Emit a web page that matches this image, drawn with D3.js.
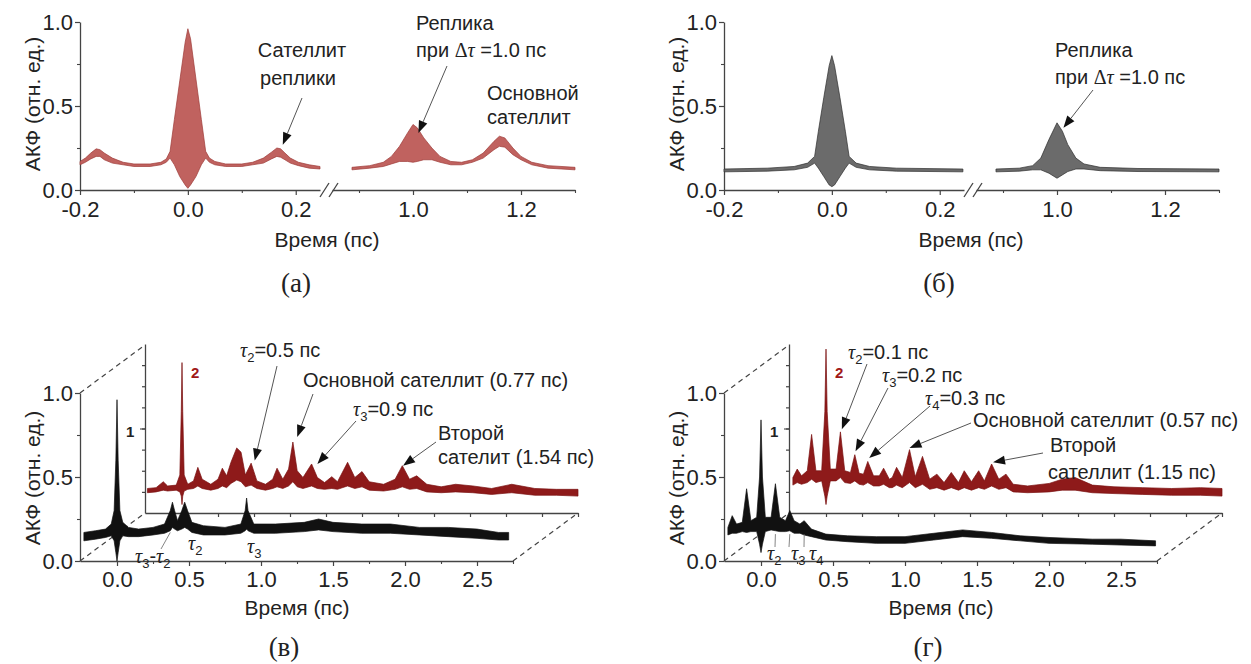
<!DOCTYPE html>
<html>
<head>
<meta charset="utf-8">
<script src="https://cdn.jsdelivr.net/npm/d3@7"></script>
<style>
  body { margin: 0; background: #fff; }
  svg text { font-family: "Liberation Sans", Arial, sans-serif; fill: #222; }
</style>
</head>
<body>
<script>
// ---- data: each point is [time (ps), upper envelope, lower envelope] ----
const aLeft = [[-0.2,0.17,0.15],[-0.19,0.19,0.165],[-0.18,0.22,0.185],[-0.17,0.245,0.2],[-0.163,0.24,0.2],[-0.155,0.22,0.18],[-0.14,0.19,0.16],[-0.12,0.165,0.15],[-0.1,0.155,0.14],[-0.07,0.155,0.14],[-0.05,0.165,0.15],[-0.04,0.185,0.165],[-0.033,0.23,0.19],[-0.025,0.42,0.15],[-0.015,0.65,0.08],[-0.005,0.88,0.03],[0,0.96,0.01],[0.005,0.9,0.03],[0.015,0.66,0.08],[0.025,0.42,0.15],[0.033,0.23,0.19],[0.04,0.19,0.165],[0.05,0.17,0.15],[0.07,0.155,0.14],[0.1,0.155,0.14],[0.12,0.165,0.15],[0.14,0.19,0.16],[0.155,0.225,0.185],[0.165,0.25,0.2],[0.172,0.245,0.195],[0.18,0.22,0.18],[0.19,0.19,0.16],[0.205,0.165,0.145],[0.225,0.15,0.13],[0.245,0.14,0.125]];
const aRight = [[0.887,0.135,0.12],[0.92,0.145,0.13],[0.945,0.165,0.14],[0.96,0.2,0.155],[0.975,0.26,0.17],[0.99,0.34,0.17],[1.0,0.39,0.165],[1.008,0.37,0.17],[1.02,0.31,0.18],[1.035,0.25,0.18],[1.05,0.2,0.165],[1.07,0.17,0.15],[1.09,0.165,0.15],[1.11,0.18,0.165],[1.13,0.22,0.19],[1.15,0.29,0.24],[1.16,0.32,0.26],[1.17,0.31,0.255],[1.185,0.25,0.21],[1.2,0.2,0.18],[1.22,0.165,0.15],[1.25,0.145,0.13],[1.3,0.135,0.12]];
const bLeft = [[-0.2,0.125,0.108],[-0.12,0.13,0.112],[-0.07,0.14,0.12],[-0.045,0.16,0.135],[-0.032,0.2,0.16],[-0.025,0.35,0.13],[-0.015,0.55,0.08],[-0.005,0.74,0.03],[0,0.8,0.02],[0.005,0.74,0.03],[0.015,0.55,0.08],[0.025,0.35,0.13],[0.032,0.2,0.16],[0.045,0.16,0.135],[0.07,0.14,0.12],[0.12,0.13,0.112],[0.243,0.125,0.108]];
const bRight = [[0.887,0.125,0.108],[0.93,0.13,0.112],[0.955,0.145,0.12],[0.97,0.19,0.12],[0.985,0.3,0.1],[1.0,0.4,0.07],[1.01,0.35,0.09],[1.02,0.27,0.11],[1.035,0.19,0.125],[1.05,0.155,0.125],[1.08,0.135,0.115],[1.15,0.128,0.11],[1.3,0.125,0.108]];

// (в): curve 1 (main axes) and curve 2 (offset axes)
const vMain = [[-0.23,0.17,0.12],[-0.15,0.18,0.13],[-0.08,0.19,0.14],[-0.04,0.22,0.15],[-0.02,0.3,0.12],[-0.008,0.6,0.05],[0,0.96,0.0],[0.008,0.6,0.05],[0.02,0.3,0.12],[0.04,0.23,0.15],[0.08,0.2,0.145],[0.15,0.19,0.145],[0.25,0.2,0.155],[0.33,0.22,0.165],[0.37,0.3,0.18],[0.385,0.35,0.2],[0.4,0.3,0.19],[0.42,0.24,0.18],[0.45,0.3,0.19],[0.47,0.35,0.2],[0.49,0.3,0.19],[0.52,0.23,0.17],[0.6,0.21,0.155],[0.75,0.2,0.155],[0.86,0.22,0.165],[0.89,0.3,0.18],[0.9,0.375,0.19],[0.91,0.3,0.18],[0.95,0.22,0.165],[1.1,0.22,0.165],[1.3,0.23,0.175],[1.4,0.25,0.185],[1.5,0.23,0.175],[1.7,0.22,0.165],[1.9,0.22,0.165],[2.1,0.2,0.155],[2.3,0.2,0.145],[2.5,0.19,0.135],[2.65,0.17,0.125],[2.72,0.17,0.125]];
const vInset = [[-0.24,0.29,0.24],[-0.18,0.3,0.25],[-0.13,0.37,0.27],[-0.1,0.32,0.26],[-0.04,0.33,0.27],[-0.015,0.45,0.25],[-0.005,1.2,0.2],[0,1.78,0.1],[0.005,1.2,0.2],[0.015,0.45,0.26],[0.04,0.34,0.28],[0.08,0.38,0.29],[0.11,0.54,0.32],[0.14,0.4,0.29],[0.2,0.34,0.27],[0.25,0.4,0.29],[0.28,0.53,0.32],[0.31,0.44,0.3],[0.34,0.6,0.35],[0.38,0.77,0.39],[0.41,0.72,0.37],[0.44,0.45,0.31],[0.48,0.59,0.33],[0.52,0.38,0.29],[0.58,0.34,0.27],[0.63,0.4,0.29],[0.66,0.53,0.31],[0.7,0.4,0.29],[0.74,0.52,0.32],[0.77,0.84,0.37],[0.8,0.5,0.31],[0.84,0.42,0.29],[0.9,0.58,0.32],[0.94,0.42,0.29],[0.99,0.36,0.28],[1.04,0.43,0.29],[1.08,0.37,0.28],[1.15,0.6,0.32],[1.2,0.42,0.29],[1.25,0.49,0.31],[1.3,0.37,0.27],[1.4,0.34,0.26],[1.48,0.4,0.28],[1.53,0.56,0.31],[1.58,0.4,0.28],[1.63,0.44,0.29],[1.7,0.34,0.25],[1.8,0.31,0.24],[1.9,0.34,0.25],[2.02,0.32,0.24],[2.15,0.29,0.22],[2.29,0.34,0.24],[2.45,0.29,0.21],[2.6,0.28,0.21],[2.75,0.28,0.2]];

// (г): curve 1 and curve 2
const gMain = [[-0.23,0.2,0.155],[-0.2,0.27,0.165],[-0.17,0.22,0.165],[-0.13,0.23,0.175],[-0.1,0.43,0.17],[-0.07,0.24,0.175],[-0.03,0.26,0.175],[-0.01,0.5,0.1],[0,0.84,0.05],[0.01,0.5,0.1],[0.03,0.26,0.175],[0.07,0.26,0.185],[0.1,0.46,0.18],[0.13,0.26,0.175],[0.17,0.24,0.175],[0.2,0.3,0.18],[0.23,0.24,0.165],[0.27,0.22,0.165],[0.3,0.24,0.155],[0.35,0.19,0.145],[0.45,0.16,0.125],[0.6,0.15,0.115],[0.8,0.145,0.105],[1.0,0.145,0.105],[1.2,0.165,0.125],[1.4,0.185,0.145],[1.6,0.17,0.135],[1.8,0.15,0.12],[2.0,0.14,0.105],[2.3,0.13,0.1],[2.5,0.13,0.095],[2.74,0.12,0.09]];
const gInset = [[-0.23,0.42,0.33],[-0.2,0.52,0.36],[-0.17,0.44,0.34],[-0.13,0.5,0.36],[-0.1,0.93,0.4],[-0.07,0.5,0.36],[-0.03,0.5,0.38],[-0.008,1.2,0.2],[0,1.94,0.1],[0.008,1.2,0.2],[0.03,0.52,0.38],[0.07,0.52,0.38],[0.1,0.96,0.42],[0.13,0.5,0.36],[0.17,0.48,0.35],[0.2,0.69,0.38],[0.23,0.47,0.34],[0.26,0.46,0.33],[0.29,0.61,0.36],[0.33,0.44,0.32],[0.37,0.44,0.32],[0.4,0.53,0.34],[0.44,0.4,0.3],[0.46,0.42,0.3],[0.49,0.54,0.33],[0.53,0.42,0.3],[0.58,0.75,0.36],[0.62,0.43,0.3],[0.67,0.67,0.34],[0.72,0.4,0.28],[0.77,0.46,0.3],[0.82,0.36,0.27],[0.87,0.48,0.3],[0.92,0.36,0.27],[0.96,0.5,0.3],[1.01,0.37,0.27],[1.06,0.5,0.3],[1.1,0.38,0.28],[1.15,0.58,0.32],[1.2,0.4,0.28],[1.25,0.46,0.3],[1.3,0.34,0.25],[1.4,0.32,0.24],[1.55,0.35,0.25],[1.64,0.4,0.27],[1.73,0.42,0.27],[1.85,0.33,0.24],[2.0,0.31,0.23],[2.2,0.3,0.22],[2.4,0.29,0.21],[2.6,0.3,0.21],[2.75,0.29,0.2]];

// tick values
const yMajor = [0, 0.5, 1.0];
const yMinor = [0.25, 0.75];
const topLeftMajor = [-0.2, 0.0, 0.2];
const topLeftMinor = [-0.1, 0.1];
const topRightMajor = [1.0, 1.2];
const topRightMinor = [0.9, 1.1, 1.3];
const botMajor = [0.0, 0.5, 1.0, 1.5, 2.0, 2.5];
const botMinor = [0.25, 0.75, 1.25, 1.75, 2.25, 2.75];
const insetYMinor = [0.25, 0.5, 0.75, 1.0, 1.25, 1.5, 1.75];
const insetXTicks = [0, 0.25, 0.5, 0.75, 1.0, 1.25, 1.5, 1.75, 2.0, 2.25, 2.5, 2.75];

const W = 1251, H = 664;
const COL = 644;
const fmt = d => d.toFixed(1);
const SERIF = '"Liberation Serif", "DejaVu Serif", serif';

const svg = d3.select("body").append("svg").attr("width", W).attr("height", H);

function trace(g, data, x, y, fill, stroke) {
  const ar = d3.area().x(d => x(d[0])).y0(d => y(d[2])).y1(d => y(d[1]));
  g.append("path").datum(data).attr("d", ar)
    .attr("fill", fill).attr("stroke", stroke)
    .attr("stroke-width", 0.7).attr("stroke-linejoin", "round");
}

function styleAxis(sel, size) {
  sel.attr("font-family", null).attr("font-size", null).attr("color", "#444");
  sel.select(".domain").attr("stroke-width", 1.3);
  sel.selectAll(".tick line").attr("stroke-width", 1.2);
  sel.selectAll("text").style("font-size", size + "px");
}

function minor(sel) {
  sel.attr("color", "#444");
  sel.select(".domain").remove();
  sel.selectAll(".tick line").attr("stroke-width", 1.1);
}

function arrow(g, x1, y1, x2, y2) {
  const a = Math.atan2(y2 - y1, x2 - x1);
  const L = 12, w = 4.5;
  const bx = x2 - L * Math.cos(a), by = y2 - L * Math.sin(a);
  g.append("line").attr("x1", x1).attr("y1", y1).attr("x2", bx).attr("y2", by)
    .attr("stroke", "#555").attr("stroke-width", 1);
  const px = -Math.sin(a) * w, py = Math.cos(a) * w;
  g.append("path")
    .attr("d", `M${x2},${y2}L${bx + px},${by + py}L${bx - px},${by - py}Z`)
    .attr("fill", "#111");
}

// text made of parts: {t, tau, sub, serif}
function rich(g, x, y, parts, size) {
  const t = g.append("text").attr("x", x).attr("y", y).style("font-size", size + "px");
  let shift = 0;
  parts.forEach(p => {
    const s = t.append("tspan").text(p.t);
    const want = p.sub ? 5 : 0;
    if (want !== shift) { s.attr("dy", want - shift); shift = want; }
    if (p.sub) s.style("font-size", (size * 0.65) + "px");
    if (p.tau || p.serif) s.style("font-family", SERIF);
    if (p.tau) s.style("font-style", "italic");
  });
  return t;
}

function plain(g, x, y, str, size, anchor) {
  return g.append("text").attr("x", x).attr("y", y).attr("text-anchor", anchor || "start")
    .style("font-size", size + "px").text(str);
}

function yTitle(g, cy) {
  g.append("text").attr("transform", `translate(40,${cy}) rotate(-90)`)
    .attr("text-anchor", "middle").style("font-size", "21px").text("АКФ (отн. ед.)");
}

function caption(g, x, y, str) {
  g.append("text").attr("x", x).attr("y", y).attr("text-anchor", "middle")
    .style("font-family", SERIF).style("font-size", "27px").text(str);
}

// ---------------- top panels ----------------
function topPanel(ox, left, right, fill, stroke) {
  const g = svg.append("g").attr("transform", `translate(${ox},0)`);
  const y = d3.scaleLinear().domain([0, 1]).range([190, 22]);
  const xl = d3.scaleLinear().domain([-0.2, 0.245]).range([80, 320]);
  const xr = d3.scaleLinear().domain([0.85, 1.3]).range([332, 575]);

  g.append("g").attr("transform", "translate(0,190)")
    .call(d3.axisBottom(xl).tickValues(topLeftMajor).tickFormat(fmt).tickSize(5).tickSizeOuter(0).tickPadding(6))
    .call(styleAxis, 22);
  g.append("g").attr("transform", "translate(0,190)")
    .call(d3.axisBottom(xl).tickValues(topLeftMinor).tickFormat("").tickSize(3)).call(minor);
  g.append("g").attr("transform", "translate(0,190)")
    .call(d3.axisBottom(xr).tickValues(topRightMajor).tickFormat(fmt).tickSize(5).tickSizeOuter(0).tickPadding(6))
    .call(styleAxis, 22);
  g.append("g").attr("transform", "translate(0,190)")
    .call(d3.axisBottom(xr).tickValues(topRightMinor).tickFormat("").tickSize(3)).call(minor);
  g.append("g").attr("transform", "translate(80,0)")
    .call(d3.axisLeft(y).tickValues(yMajor).tickFormat(fmt).tickSize(5).tickSizeOuter(0).tickPadding(2))
    .call(styleAxis, 22);
  g.append("g").attr("transform", "translate(80,0)")
    .call(d3.axisLeft(y).tickValues(yMinor).tickFormat("").tickSize(3)).call(minor);

  // axis break
  [0, 9].forEach(d => g.append("line")
    .attr("x1", 320 + d).attr("y1", 197).attr("x2", 329 + d).attr("y2", 183)
    .attr("stroke", "#444").attr("stroke-width", 1.3));

  trace(g, left, xl, y, fill, stroke);
  trace(g, right, xr, y, fill, stroke);

  yTitle(g, 104);
  plain(g, 327, 247, "Время (пс)", 21, "middle");
  return { g, xl, xr, y };
}

const pa = topPanel(0, aLeft, aRight, "#c0625f", "#9e3b38");
const pb = topPanel(COL, bLeft, bRight, "#6b6b6b", "#2e2e2e");

// annotations (а)
plain(pa.g, 302, 57, "Сателлит", 20, "middle");
plain(pa.g, 298, 85, "реплики", 20, "middle");
arrow(pa.g, 302, 98, pa.xl(0.176), pa.y(0.27));
plain(pa.g, 416, 30, "Реплика", 20);
rich(pa.g, 416, 57, [{t: "при "}, {t: "Δ", serif: true}, {t: "τ", tau: true}, {t: " =1.0 пс"}], 20);
arrow(pa.g, 447, 66, pa.xr(1.01), pa.y(0.34));
plain(pa.g, 487, 100, "Основной", 20);
plain(pa.g, 487, 124, "сателлит", 20);
caption(pa.g, 296, 292, "(а)");

// annotations (б)
plain(pb.g, 411, 57, "Реплика", 20);
rich(pb.g, 411, 84, [{t: "при "}, {t: "Δ", serif: true}, {t: "τ", tau: true}, {t: " =1.0 пс"}], 20);
arrow(pb.g, 449, 90, pb.xr(1.012), pb.y(0.37));
caption(pb.g, 295, 292, "(б)");

// ---------------- bottom panels ----------------
function bottomPanel(ox, main, inset) {
  const g = svg.append("g").attr("transform", `translate(${ox},0)`);
  const x = d3.scaleLinear().domain([-0.257, 2.75]).range([80, 513]);
  const y = d3.scaleLinear().domain([0, 1]).range([561, 393]);
  const dx = 65, dy = -48;
  const xi = x.copy().range([80 + dx, 513 + dx]);
  const yi = d3.scaleLinear().domain([0, 2]).range([561 + dy, 393 + dy - 1]);

  // perspective dashes
  [[80, 393], [80, 561], [513, 561]].forEach(([px, py]) => g.append("line")
    .attr("x1", px).attr("y1", py).attr("x2", px + dx).attr("y2", py + dy)
    .attr("stroke", "#444").attr("stroke-width", 1.2).attr("stroke-dasharray", "5,4"));

  // offset axes (curve 2)
  g.append("g").attr("transform", `translate(0,${561 + dy})`)
    .call(d3.axisBottom(xi).tickValues(insetXTicks).tickFormat("").tickSize(4).tickSizeOuter(0))
    .call(styleAxis, 10);
  g.append("g").attr("transform", `translate(${80 + dx},0)`)
    .call(d3.axisLeft(yi).tickValues(insetYMinor).tickFormat("").tickSize(3).tickSizeOuter(0))
    .call(styleAxis, 10);
  g.append("g").attr("transform", `translate(${80 + dx},0)`)
    .call(d3.axisLeft(yi).tickValues([1]).tickFormat("").tickSize(5)).call(minor);
  trace(g, inset, xi, yi, "#8e1a1a", "#7a1010");

  // main axes (curve 1)
  g.append("g").attr("transform", "translate(0,561)")
    .call(d3.axisBottom(x).tickValues(botMajor).tickFormat(fmt).tickSize(5).tickSizeOuter(0).tickPadding(5))
    .call(styleAxis, 22);
  g.append("g").attr("transform", "translate(0,561)")
    .call(d3.axisBottom(x).tickValues(botMinor).tickFormat("").tickSize(3)).call(minor);
  g.append("g").attr("transform", "translate(80,0)")
    .call(d3.axisLeft(y).tickValues(yMajor).tickFormat(fmt).tickSize(5).tickSizeOuter(0).tickPadding(2))
    .call(styleAxis, 22);
  g.append("g").attr("transform", "translate(80,0)")
    .call(d3.axisLeft(y).tickValues(yMinor).tickFormat("").tickSize(3)).call(minor);
  trace(g, main, x, y, "#111", "#111");

  // curve numbers
  g.append("text").attr("x", x(0) + 9).attr("y", 437).style("font-size", "15px")
    .style("font-weight", "bold").text("1");
  g.append("text").attr("x", xi(0) + 9).attr("y", 378).style("font-size", "15px")
    .style("font-weight", "bold").style("fill", "#a01818").text("2");

  yTitle(g, 478);
  plain(g, 297, 615, "Время (пс)", 21, "middle");
  return { g, x, y, xi, yi };
}

const pv = bottomPanel(0, vMain, vInset);
const pg = bottomPanel(COL, gMain, gInset);

// annotations (в)
rich(pv.g, 240, 357, [{t: "τ", tau: true}, {t: "2", sub: true}, {t: "=0.5 пс"}], 20);
arrow(pv.g, 277, 366, pv.xi(0.505), pv.yi(0.62));
plain(pv.g, 303, 387, "Основной сателлит (0.77 пс)", 20);
arrow(pv.g, 313, 394, pv.xi(0.8), pv.yi(0.9));
rich(pv.g, 353, 416, [{t: "τ", tau: true}, {t: "3", sub: true}, {t: "=0.9 пс"}], 20);
arrow(pv.g, 356, 421, pv.xi(0.94), pv.yi(0.58));
plain(pv.g, 438, 440, "Второй", 20);
plain(pv.g, 438, 464, "сателит (1.54 пс)", 20);
arrow(pv.g, 436, 442, pv.xi(1.535), pv.yi(0.56));
rich(pv.g, 135, 563, [{t: "τ", tau: true}, {t: "3", sub: true}, {t: "-"}, {t: "τ", tau: true}, {t: "2", sub: true}], 20);
rich(pv.g, 188, 550, [{t: "τ", tau: true}, {t: "2", sub: true}], 20);
rich(pv.g, 247, 553, [{t: "τ", tau: true}, {t: "3", sub: true}], 20);
pv.g.append("line").attr("x1", 161).attr("y1", 549).attr("x2", pv.x(0.37)).attr("y2", pv.y(0.17))
  .attr("stroke", "#666").attr("stroke-width", 0.8);
caption(pv.g, 284, 656, "(в)");

// annotations (г)
rich(pg.g, 204, 359, [{t: "τ", tau: true}, {t: "2", sub: true}, {t: "=0.1 пс"}], 20);
arrow(pg.g, 223, 364, pg.xi(0.11), pg.yi(0.99));
rich(pg.g, 238, 382, [{t: "τ", tau: true}, {t: "3", sub: true}, {t: "=0.2 пс"}], 20);
arrow(pg.g, 244, 388, pg.xi(0.205), pg.yi(0.73));
rich(pg.g, 281, 405, [{t: "τ", tau: true}, {t: "4", sub: true}, {t: "=0.3 пс"}], 20);
arrow(pg.g, 286, 406, pg.xi(0.3), pg.yi(0.65));
plain(pg.g, 329, 427, "Основной сателлит (0.57 пс)", 20);
arrow(pg.g, 327, 423, pg.xi(0.58), pg.yi(0.77));
plain(pg.g, 406, 452, "Второй", 20);
plain(pg.g, 404, 479, "сателлит (1.15 пс)", 20);
arrow(pg.g, 399, 453, pg.xi(1.16), pg.yi(0.6));
rich(pg.g, 123, 560, [{t: "τ", tau: true}, {t: "2", sub: true}], 20);
rich(pg.g, 147, 560, [{t: "τ", tau: true}, {t: "3", sub: true}], 20);
rich(pg.g, 165, 560, [{t: "τ", tau: true}, {t: "4", sub: true}], 20);
[[131, 0.1], [145, 0.2], [160, 0.3]].forEach(([lx, t]) => pg.g.append("line")
  .attr("x1", lx).attr("y1", 547).attr("x2", pg.x(t)).attr("y2", pg.y(0.16))
  .attr("stroke", "#666").attr("stroke-width", 0.8));
caption(pg.g, 284, 656, "(г)");
</script>
</body>
</html>
